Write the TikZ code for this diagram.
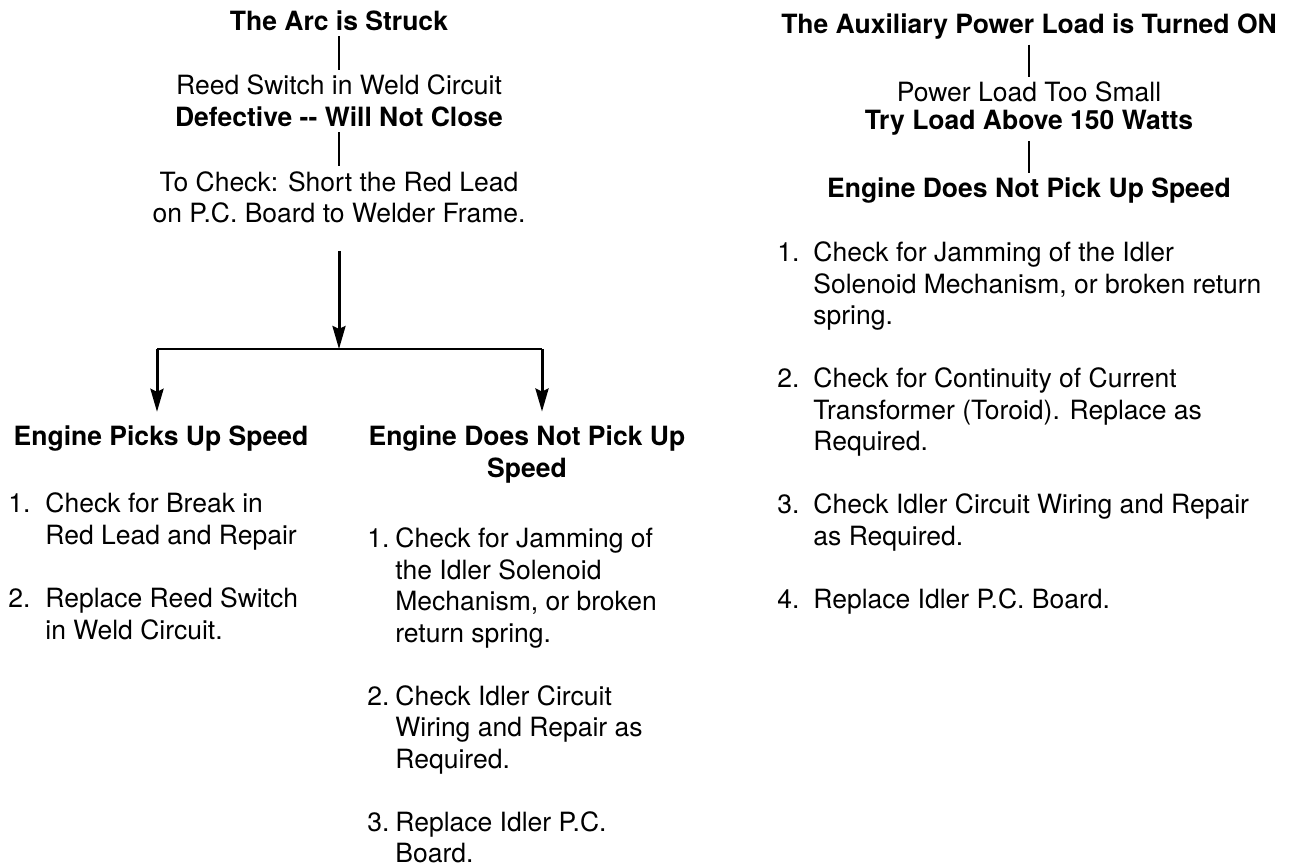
\documentclass[tikz,border=0pt]{standalone}
\usepackage{fontspec}
\setmainfont{TeX Gyre Heros}
\usetikzlibrary{arrows.meta, positioning}

\begin{document}
\begin{tikzpicture}[
        x=0.5pt, y=-0.5pt,
        % styles
        every node/.style = {font=\fontsize{13.25}{15.75}\selectfont, inner sep=2.5pt},
        head/.style = {font=\fontsize{13.25}{15.75}\selectfont\bfseries, align=center},
        cause/.style = {align=center},
        itemtext/.style = {anchor=north west, align=left},
        itemnum/.style = {anchor=north west},
        link/.style = {line width=1.35pt},
        arrow/.style = {
            -{Stealth[length=11.5pt, width=6.5pt, inset=1.5pt]},
            line width=1.5pt
        }
    ]
        \useasboundingbox (0,0) rectangle (1290,867);

        % 1. Left tree
        \node (arc)   [head]  at (339,21)    {The Arc is Struck};
        \node (reed)  [cause] at (339,101)   {Reed Switch in Weld Circuit\\\textbf{Defective -{}- Will Not Close}};
        \node (short) [cause] at (339,197.5) {To Check: Short the Red Lead\\on P.C. Board to Welder Frame.};
        \coordinate (split)  at (339,349);
        \coordinate (fork l) at (157,349);
        \coordinate (fork r) at (542,349);
        \node (picks)  [head] at (161,439)   {Engine Picks Up Speed};
        \node (nopick) [head] at (527,454.5) {Engine Does Not Pick Up\\Speed};

        \draw [link] (arc) -- (reed);
        \draw [link] (reed) -- (short);
        \draw [arrow] ([yshift=-11pt]short.south) -- (split);
        \draw [link] (fork l) -- (fork r);
        \draw [arrow, shorten >=4.5pt] (fork l) -- (fork l |- picks.north);
        \draw [arrow, shorten >=4.5pt] (fork r) -- (fork r |- nopick.north);

        % 2. Lists under the branches
        \node (l1) [itemtext] at (40,485.5) {\strut Check for Break in\\Red Lead and Repair};
        \node [itemnum] at (3,485.5) {\strut 1.};
        \node (l2) [itemtext] at (40,580.5) {\strut Replace Reed Switch\\in Weld Circuit.};
        \node [itemnum] at (3,580.5) {\strut 2.};

        \node (m1) [itemtext] at (390,520.5) {\strut Check for Jamming of\\the Idler Solenoid\\Mechanism, or broken\\return spring.};
        \node [itemnum] at (362,520.5) {\strut 1.};
        \node (m2) [itemtext] at (390,678) {\strut Check Idler Circuit\\Wiring and Repair as\\Required.};
        \node [itemnum] at (362,678) {\strut 2.};
        \node (m3) [itemtext] at (390,804) {\strut Replace Idler P.C.\\Board.};
        \node [itemnum] at (362,804) {\strut 3.};

        % 3. Right tree
        \node (aux)   [head]  at (1029,26.5)  {The Auxiliary Power Load is Turned ON};
        \node (small) [cause, font=\fontsize{13.25}{14}\selectfont] at (1029,108.8)
            {Power Load Too Small\\\textbf{Try Load Above 150 Watts}};
        \node (slow)  [head]  at (1029,190.8) {Engine Does Not Pick Up Speed};

        \draw [link] (aux) -- (small);
        \draw [link] (small) -- (slow);

        \node (r1) [itemtext] at (808,234.5) {\strut Check for Jamming of the Idler\\Solenoid Mechanism, or broken return\\spring.};
        \node [itemnum] at (772,234.5) {\strut 1.};
        \node (r2) [itemtext] at (808,360.5) {\strut Check for Continuity of Current\\Transformer (Toroid). Replace as\\Required.};
        \node [itemnum] at (772,360.5) {\strut 2.};
        \node (r3) [itemtext] at (808,486.5) {\strut Check Idler Circuit Wiring and Repair\\as Required.};
        \node [itemnum] at (772,486.5) {\strut 3.};
        \node (r4) [itemtext] at (808,581) {\strut Replace Idler P.C. Board.};
        \node [itemnum] at (772,581) {\strut 4.};

    \end{tikzpicture}
\end{document}
